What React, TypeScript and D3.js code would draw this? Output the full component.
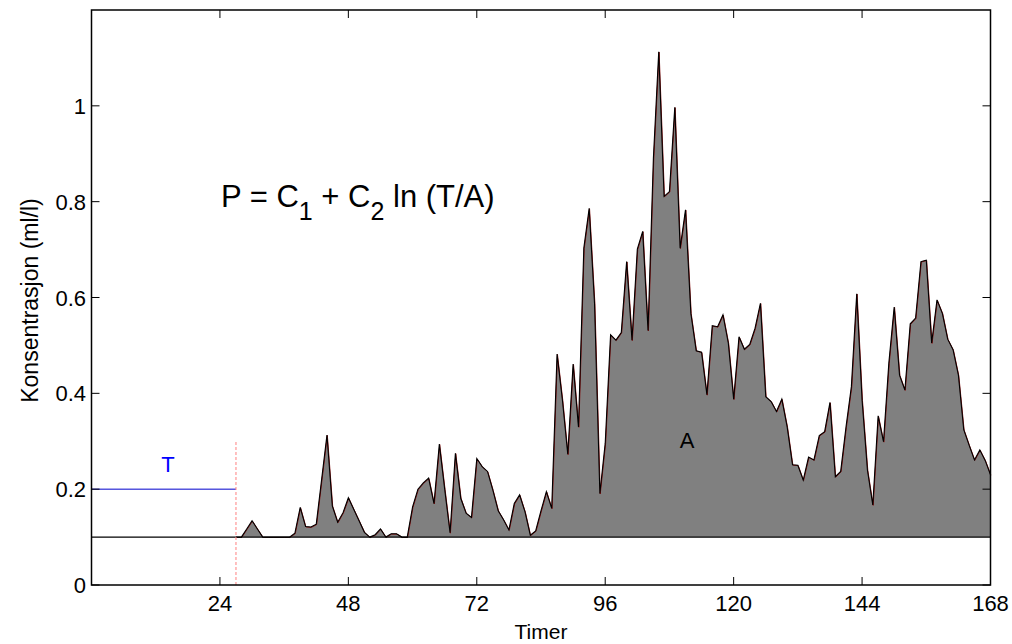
import React, { useEffect, useRef } from 'react';
import * as d3 from 'd3';

// hourly concentration from hour 27 to hour 168
const startHour = 27;
const konsentrasjon = [
  0.1, 0.1, 0.117, 0.134, 0.117, 0.1, 0.1, 0.1, 0.1, 0.1,
  0.1, 0.108, 0.162, 0.122, 0.121, 0.127, 0.22, 0.313, 0.165, 0.131,
  0.151, 0.182, 0.158, 0.134, 0.11, 0.1, 0.105, 0.117, 0.1, 0.107,
  0.107, 0.1, 0.1, 0.163, 0.2, 0.213, 0.223, 0.17, 0.294, 0.2,
  0.109, 0.275, 0.181, 0.15, 0.141, 0.264, 0.247, 0.237, 0.198, 0.155,
  0.136, 0.115, 0.17, 0.188, 0.153, 0.104, 0.113, 0.155, 0.195, 0.16,
  0.482, 0.386, 0.273, 0.461, 0.33, 0.703, 0.786, 0.588, 0.191, 0.296,
  0.522, 0.511, 0.527, 0.675, 0.511, 0.701, 0.738, 0.531, 0.89, 1.113,
  0.811, 0.821, 0.997, 0.703, 0.783, 0.567, 0.489, 0.486, 0.397, 0.541,
  0.539, 0.564, 0.505, 0.388, 0.518, 0.492, 0.502, 0.536, 0.588, 0.393,
  0.383, 0.362, 0.388, 0.33, 0.251, 0.25, 0.219, 0.267, 0.261, 0.312,
  0.32, 0.381, 0.226, 0.237, 0.33, 0.414, 0.608, 0.386, 0.24, 0.167,
  0.353, 0.299, 0.463, 0.58, 0.438, 0.407, 0.545, 0.557, 0.675, 0.678,
  0.505, 0.595, 0.567, 0.513, 0.491, 0.438, 0.324, 0.292, 0.261, 0.282,
  0.26, 0.23,
];

const xTicks = [24, 48, 72, 96, 120, 144, 168];
const yTicks = [0, 0.2, 0.4, 0.6, 0.8, 1];

const baseLevel = 0.1; // background level
const tLevel = 0.2; // threshold T
const tHour = 27; // end of reference period
const tMarkerTop = 0.3;

const FONT = "'Liberation Sans', Arial, Helvetica, sans-serif";

export default function App() {
  const svgRef = useRef<SVGSVGElement>(null);

  useEffect(() => {
    if (!svgRef.current) return;
    const svg = d3.select(svgRef.current);
    svg.selectAll('*').remove();

    const left = 91.5, right = 990.5, top = 10, bottom = 585;
    const x = d3.scaleLinear().domain([0, 168]).range([left, right]);
    const y = d3.scaleLinear().domain([0, 1.2]).range([bottom, top]);

    const data = konsentrasjon.map((v, i) => ({ h: startHour + i, v }));

    // filled area between background and measurement
    const area = d3.area<{ h: number; v: number }>()
      .x((d) => x(d.h))
      .y0(y(baseLevel))
      .y1((d) => y(d.v));

    svg.append('path')
      .datum(data)
      .attr('fill', '#808080')
      .attr('d', area);

    const line = d3.line<{ h: number; v: number }>()
      .x((d) => x(d.h))
      .y((d) => y(d.v));

    svg.append('path')
      .datum(data)
      .attr('fill', 'none')
      .attr('stroke', '#8a1010')
      .attr('stroke-width', 1)
      .attr('transform', 'translate(0.4,0.4)')
      .attr('d', line);

    svg.append('path')
      .datum(data)
      .attr('fill', 'none')
      .attr('stroke', '#000')
      .attr('stroke-width', 1.1)
      .attr('d', line);

    // background level
    svg.append('line')
      .attr('x1', x(0)).attr('x2', x(168))
      .attr('y1', y(baseLevel)).attr('y2', y(baseLevel))
      .attr('stroke', '#000')
      .attr('stroke-width', 1.3);

    // threshold T
    svg.append('line')
      .attr('x1', x(0)).attr('x2', x(tHour))
      .attr('y1', y(tLevel)).attr('y2', y(tLevel))
      .attr('stroke', '#0000cc')
      .attr('stroke-width', 1);

    svg.append('line')
      .attr('x1', x(tHour)).attr('x2', x(tHour))
      .attr('y1', y(0)).attr('y2', y(tMarkerTop))
      .attr('stroke', '#ff8080')
      .attr('stroke-width', 1)
      .attr('stroke-dasharray', '3,2');

    svg.append('text')
      .attr('x', 168).attr('y', 472)
      .attr('text-anchor', 'middle')
      .attr('fill', '#0000ff')
      .style('font-size', '22px')
      .text('T');

    svg.append('text')
      .attr('x', 687).attr('y', 448)
      .attr('text-anchor', 'middle')
      .attr('fill', '#000')
      .style('font-size', '22px')
      .text('A');

    // formula
    const f = svg.append('text')
      .attr('x', 221).attr('y', 207)
      .style('font-size', '31px')
      .style('white-space', 'pre');
    f.append('tspan').text('P = C');
    f.append('tspan').attr('dy', 13).style('font-size', '25px').text('1');
    f.append('tspan').attr('dy', -13).text(' + C');
    f.append('tspan').attr('dy', 13).style('font-size', '25px').text('2');
    f.append('tspan').attr('dy', -13).text(' ln (T/A)');

    // axes box
    svg.append('rect')
      .attr('x', left).attr('y', top)
      .attr('width', right - left).attr('height', bottom - top)
      .attr('fill', 'none')
      .attr('stroke', '#000')
      .attr('stroke-width', 1.5);

    const tickLen = 8;
    xTicks.forEach((t) => {
      svg.append('line')
        .attr('x1', x(t)).attr('x2', x(t))
        .attr('y1', bottom).attr('y2', bottom - tickLen)
        .attr('stroke', '#000');
      svg.append('line')
        .attr('x1', x(t)).attr('x2', x(t))
        .attr('y1', top).attr('y2', top + tickLen)
        .attr('stroke', '#000');
      svg.append('text')
        .attr('x', x(t)).attr('y', 611)
        .attr('text-anchor', 'middle')
        .style('font-size', '22px')
        .text(String(t));
    });

    yTicks.forEach((t) => {
      svg.append('line')
        .attr('x1', left).attr('x2', left + tickLen)
        .attr('y1', y(t)).attr('y2', y(t))
        .attr('stroke', '#000');
      svg.append('line')
        .attr('x1', right).attr('x2', right - tickLen)
        .attr('y1', y(t)).attr('y2', y(t))
        .attr('stroke', '#000');
      svg.append('text')
        .attr('x', 86).attr('y', y(t) + 8)
        .attr('text-anchor', 'end')
        .style('font-size', '22px')
        .text(d3.format('~g')(t));
    });

    svg.append('text')
      .attr('x', (left + right) / 2).attr('y', 639)
      .attr('text-anchor', 'middle')
      .style('font-size', '21px')
      .text('Timer');

    svg.append('text')
      .attr('transform', `translate(38,${(top + bottom) / 2 + 3}) rotate(-90)`)
      .attr('text-anchor', 'middle')
      .style('font-size', '23px')
      .text('Konsentrasjon (ml/l)');
  }, []);

  return (
    <svg
      ref={svgRef}
      width={1012}
      height={644}
      style={{ position: 'fixed', left: 0, top: 0, background: '#fff', fontFamily: FONT }}
    />
  );
}
